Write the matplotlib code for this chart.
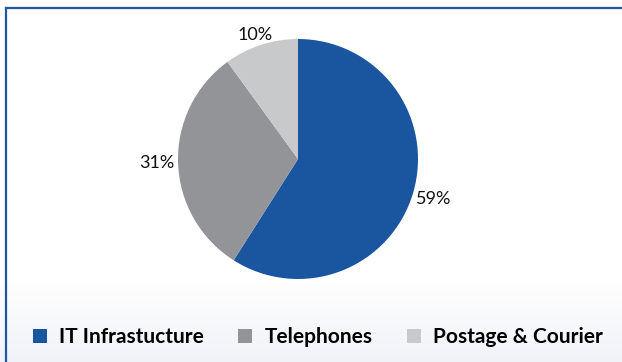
import numpy as np
import matplotlib.pyplot as plt
from matplotlib.lines import Line2D

categories = ['IT Infrastucture', 'Telephones', 'Postage & Courier']
shares = [59, 31, 10]
colors = ['#1a56a0', '#939497', '#c8c9cb']

plt.rcParams['font.family'] = ['Lato', 'DejaVu Sans']

W, H = 622, 362
fig = plt.figure(figsize=(W / 100, H / 100), dpi=100)
fig.patch.set_facecolor('white')

# soft grey-blue fade behind the legend strip
bg = fig.add_axes([0, 0, 1, 1], zorder=-10)
grad = np.ones((H, 1))
fade_start = 280
for i in range(H):
    if i > fade_start:
        grad[i, 0] = 1 - (i - fade_start) / (H - fade_start)
grad = grad[::-1]
bg.imshow(np.dstack([0.94 + 0.06 * grad, 0.95 + 0.05 * grad, 0.975 + 0.025 * grad]),
          aspect='auto', extent=(0, 1, 0, 1), origin='lower')
bg.set_axis_off()

# pie centred at (298, 159) px with radius 120 px
cx, cy, r = 298, 159, 120
ax = fig.add_axes([(cx - r) / W, (H - cy - r) / H, 2 * r / W, 2 * r / H])
wedges, texts, autotexts = ax.pie(shares, colors=colors, startangle=90,
                                  counterclock=False,
                                  autopct=lambda p: f'{round(p)}%',
                                  pctdistance=1.18,
                                  textprops={'fontsize': 13, 'color': '#111111'})
autotexts[2].set_position((-0.36, 1.03))
ax.set_xlim(-1, 1)
ax.set_ylim(-1, 1)

fig.legend(wedges, categories, ncol=3, loc='center left',
           bbox_to_anchor=(33 / W, 1 - 337 / H), frameon=False,
           handlelength=0.67, handleheight=0.67, handletextpad=0.58,
           columnspacing=1.65, borderaxespad=0, borderpad=0,
           prop={'weight': 'bold', 'size': 15})

# blue frame along the top and left edges
line_col = '#1f55a3'
fig.add_artist(Line2D([5.5 / W, 1], [1 - 7.5 / H, 1 - 7.5 / H], color=line_col, lw=1.6))
fig.add_artist(Line2D([5.5 / W, 5.5 / W], [0, 1 - 7.5 / H], color=line_col, lw=1.6))

fig.savefig('out.png', dpi=100)
